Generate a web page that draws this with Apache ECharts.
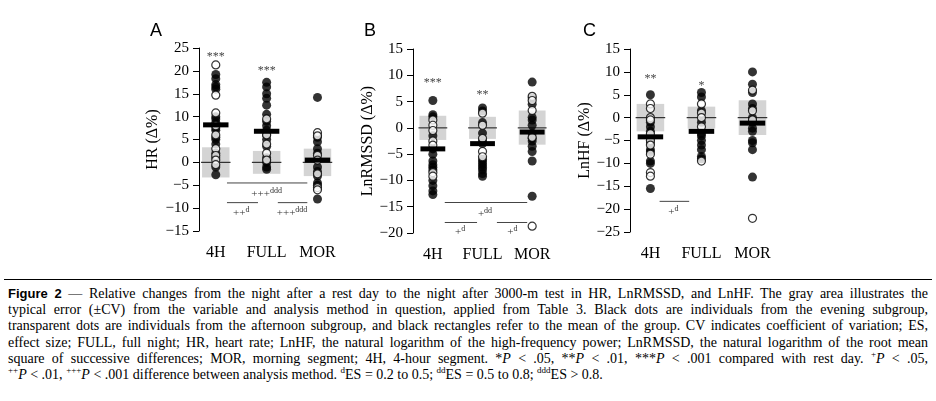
<!DOCTYPE html>
<html><head><meta charset="utf-8">
<script src="https://cdn.jsdelivr.net/npm/echarts@6/dist/echarts.min.js"></script>
<style>
body{margin:0;background:#fff;width:936px;height:401px;overflow:hidden;position:relative}
#c{position:absolute;left:0;top:0;width:936px;height:275px}
#rule{position:absolute;left:4px;top:279px;width:928px;height:0;border-top:1px solid #000}
#cap{position:absolute;left:8px;top:286px;width:920px;font-family:"Times New Roman","Liberation Serif",Tinos,"DejaVu Serif",serif;font-size:14px;line-height:16.2px;color:#000}
#cap div{text-align:justify;text-align-last:justify;white-space:nowrap}
#cap div.last{text-align-last:left}
#cap b{font-family:"Liberation Sans",Arial,sans-serif;font-size:13px}
sup{font-size:9px;line-height:0}
</style></head><body>
<div id="c"></div>
<div id="rule"></div>
<div id="cap">
<div><b>Figure 2</b> — Relative changes from the night after a rest day to the night after 3000-m test in HR, LnRMSSD, and LnHF. The gray area illustrates the</div>
<div>typical error (±CV) from the variable and analysis method in question, applied from Table 3. Black dots are individuals from the evening subgroup,</div>
<div>transparent dots are individuals from the afternoon subgroup, and black rectangles refer to the mean of the group. CV indicates coefficient of variation; ES,</div>
<div>effect size; FULL, full night; HR, heart rate; LnHF, the natural logarithm of the high-frequency power; LnRMSSD, the natural logarithm of the root mean</div>
<div>square of successive differences; MOR, morning segment; 4H, 4-hour segment. *<i>P</i> &lt; .05, **<i>P</i> &lt; .01, ***<i>P</i> &lt; .001 compared with rest day. <sup>+</sup><i>P</i> &lt; .05,</div>
<div class="last"><sup>++</sup><i>P</i> &lt; .01, <sup>+++</sup><i>P</i> &lt; .001 difference between analysis method. <sup>d</sup>ES = 0.2 to 0.5; <sup>dd</sup>ES = 0.5 to 0.8; <sup>ddd</sup>ES &gt; 0.8.</div>
</div>
<script>
const categories = ['4H','FULL','MOR'];
const panelLetters = ['A','B','C'];
const yNames = ['HR (Δ%)','LnRMSSD (Δ%)','LnHF (Δ%)'];
const yMin = [-15,-20,-25], yMax = [25,15,15];
// filled (evening) dots per panel: [4H, FULL, MOR]
const filledA = [[19.2,18.3,17,16.5,16,10,9.5,8.7,7.5,7,5.5,5,4,2,1,-1,-2.7],[17.5,16.5,15,14,12.5,10.5,9,8,7,6,5,3.5,1,0,-1,-1.5],[14.2,5.5,4.5,3,2,-1,-2,-3,-4.5,-5,-8]];
const openA = [[21.3,14.7,10.8,8,6,3,1.5,0.5,-0.5],[9.5,6,4,2,0.5],[6.5,5.8,1.5,0.5,-2.5,-5.5,-6]];
const filledB = [[5.2,2.5,2.1,-1.5,-4,-5,-6.3,-7,-7.5,-8,-10,-11,-12,-12.7],[3.8,3.2,1,-1,-2.5,-3,-6,-6.5,-7,-7.5,-8,-8.7,-9.2],[8.7,5.7,4.5,2,1.5,0.5,-1,-2,-2.5,-3.5,-4.5,-6.3,-13]];
const openB = [[1.5,0.5,-0.5,-2.5,-3.3,-8.5,-9.2],[2.8,0.5,-2,-4.5,-5.5],[6,5.2,3.3,-1.8,-18.7]];
const filledC = [[5,-1,-2,-3,-4.5,-5.5,-7,-7.5,-9.5,-10,-15.5],[5.5,4.5,1.5,-1,-3.5,-4,-5,-6,-7,-8.5,-9],[10,7.3,5.5,3,2,0,-1,-2.3,-3,-5,-5.5,-7,-13]];
const openC = [[3,2,0,-0.5,-3.5,-5,-6,-8,-12,-12.8],[3,1,0,-2,-9.5],[6,1.5,-0.5,-22]];
const meansA = [8.2,6.8,0.5], meansB = [-4,-3,-0.8], meansC = [-4.2,-3,-1.2];
const cvLoA = [-3.3,-2.5,-3.0], cvHiA = [3.3,2.5,3.0];
const cvLoB = [-2.3,-2.1,-3.2], cvHiB = [2.3,2.1,3.3];
const cvLoC = [-3.0,-2.4,-3.8], cvHiC = [3.0,2.4,3.8];
const starsA = ['***','***',''], starY_A = [23,20,0];
const starsB = ['***','**',''], starY_B = [8.5,6.3,0];
const starsC = ['**','*',''], starY_C = [8.5,7,0];
// comparison lines: [x1, x2, y] and labels [x, y, plus, d]
const cmpLinesA = [[1.22,2.8,-4.5],[1.22,1.83,-8.8],[2.22,2.8,-8.8]];
const cmpLabA = [[2.0,-7,'+++','ddd'],[1.5,-11,'++','d'],[2.5,-11,'+++','ddd']];
const cmpLinesB = [[1.24,2.9,-14.2],[1.24,1.89,-18],[2.29,2.9,-18]];
const cmpLabB = [[2.05,-16.4,'+','dd'],[1.55,-19.8,'+','d'],[2.6,-19.8,'+','d']];
const cmpLinesC = [[1.18,1.76,-18.3]];
const cmpLabC = [[1.45,-20.6,'+','d']];

const P = [
 {filled:filledA,open:openA,means:meansA,lo:cvLoA,hi:cvHiA,stars:starsA,sy:starY_A,lines:cmpLinesA,labs:cmpLabA,left:199,width:149,xmin:0.67,xmax:3.6,top:48,bottom:231},
 {filled:filledB,open:openB,means:meansB,lo:cvLoB,hi:cvHiB,stars:starsB,sy:starY_B,lines:cmpLinesB,labs:cmpLabB,left:413,width:144,xmin:0.6,xmax:3.5,top:49,bottom:233},
 {filled:filledC,open:openC,means:meansC,lo:cvLoC,hi:cvHiC,stars:starsC,sy:starY_C,lines:cmpLinesC,labs:cmpLabC,left:630,width:148,xmin:0.6,xmax:3.5,top:49,bottom:232}
];
const serif = '"Times New Roman","Liberation Serif",Tinos,"DejaVu Serif",serif';
const grid=[],xAxis=[],yAxis=[],series=[],graphic=[];
P.forEach((p,i)=>{
  grid.push({left:p.left,width:p.width,top:p.top,height:p.bottom-p.top});
  xAxis.push({gridIndex:i,type:'value',min:p.xmin,max:p.xmax,axisLine:{show:false},axisTick:{show:false},splitLine:{show:false},
    axisLabel:{customValues:[1,2,3],formatter:v=>categories[Math.round(v)-1]||'',fontFamily:serif,fontSize:16,color:'#000',margin:14}});
  yAxis.push({gridIndex:i,type:'value',min:yMin[i],max:yMax[i],interval:5,splitLine:{show:false},
    axisLine:{show:true,lineStyle:{color:'#000'}},axisTick:{show:true,length:6,lineStyle:{color:'#000'}},
    axisLabel:{fontFamily:serif,fontSize:15,color:'#000',margin:10,formatter:v=>v<0?'−'+(-v):String(v)},
    name:yNames[i],nameLocation:'middle',nameGap:i===0?38:36,nameRotate:90,nameTextStyle:{fontFamily:serif,fontSize:16,color:'#000'}});
  graphic.push({type:'text',left:[150,364,583][i],top:22,style:{text:panelLetters[i],font:'18px "Liberation Sans",Arial,sans-serif',fill:'#000'}});
  series.push({type:'custom',xAxisIndex:i,yAxisIndex:i,z:1,data:categories.map((c,k)=>[k+1,p.lo[k],p.hi[k]]),
    renderItem:(params,api)=>{const a=api.coord([api.value(0)-0.27,api.value(2)]),b=api.coord([api.value(0)+0.27,api.value(1)]);
      const z1=api.coord([api.value(0)-0.29,0]),z2=api.coord([api.value(0)+0.29,0]);
      return {type:'group',children:[{type:'rect',shape:{x:a[0],y:a[1],width:b[0]-a[0],height:b[1]-a[1]},style:{fill:'#d4d4d4'}},
        {type:'line',shape:{x1:z1[0],y1:z1[1],x2:z2[0],y2:z2[1]},style:{stroke:'#333',lineWidth:1.2},z2:5}]};}});
  series.push({type:'scatter',xAxisIndex:i,yAxisIndex:i,z:3,symbolSize:9,itemStyle:{color:'#000'},
    data:p.filled.flatMap((arr,k)=>arr.map(v=>[k+1,v]))});
  series.push({type:'scatter',xAxisIndex:i,yAxisIndex:i,z:4,symbolSize:8,itemStyle:{color:'#fff',borderColor:'#000',borderWidth:1.2},
    data:p.open.flatMap((arr,k)=>arr.map(v=>[k+1,v]))});
  series.push({type:'custom',xAxisIndex:i,yAxisIndex:i,z:6,data:p.means.map((m,k)=>[k+1,m]),
    renderItem:(params,api)=>{const a=api.coord([api.value(0)-0.25,api.value(1)]),b=api.coord([api.value(0)+0.25,api.value(1)]);
      return {type:'rect',shape:{x:a[0],y:a[1]-2.5,width:b[0]-a[0],height:5},style:{fill:'#000'}};}});
  series.push({type:'custom',xAxisIndex:i,yAxisIndex:i,z:6,data:p.stars.map((s,k)=>[k+1,p.sy[k],s]),
    renderItem:(params,api)=>{const a=api.coord([api.value(0),api.value(1)]);
      return {type:'text',x:a[0],y:a[1],style:{text:p.stars[params.dataIndex],fill:'#444',font:'12px '+serif,align:'center',verticalAlign:'middle'}};}});
  series.push({type:'custom',xAxisIndex:i,yAxisIndex:i,z:6,data:p.lines,
    renderItem:(params,api)=>{const a=api.coord([api.value(0),api.value(2)]),b=api.coord([api.value(1),api.value(2)]);
      return {type:'line',shape:{x1:a[0],y1:a[1],x2:b[0],y2:b[1]},style:{stroke:'#444',lineWidth:1}};}});
  series.push({type:'custom',xAxisIndex:i,yAxisIndex:i,z:6,data:p.labs.map(l=>[l[0],l[1]]),
    renderItem:(params,api)=>{const a=api.coord([api.value(0),api.value(1)]);const l=p.labs[params.dataIndex];
      return {type:'text',x:a[0],y:a[1],style:{text:'{p|'+l[2]+'}{d|'+l[3]+'}',align:'center',verticalAlign:'middle',
        rich:{p:{fontFamily:serif,fontSize:11,fill:'#333'},d:{fontFamily:serif,fontSize:8,fill:'#333',verticalAlign:'top',padding:[0,0,6,0]}}}};}});
});
const chart = echarts.init(document.getElementById('c'),null,{renderer:'canvas'});
chart.setOption({animation:false,grid,xAxis,yAxis,series,graphic});
</script>
</body></html>
